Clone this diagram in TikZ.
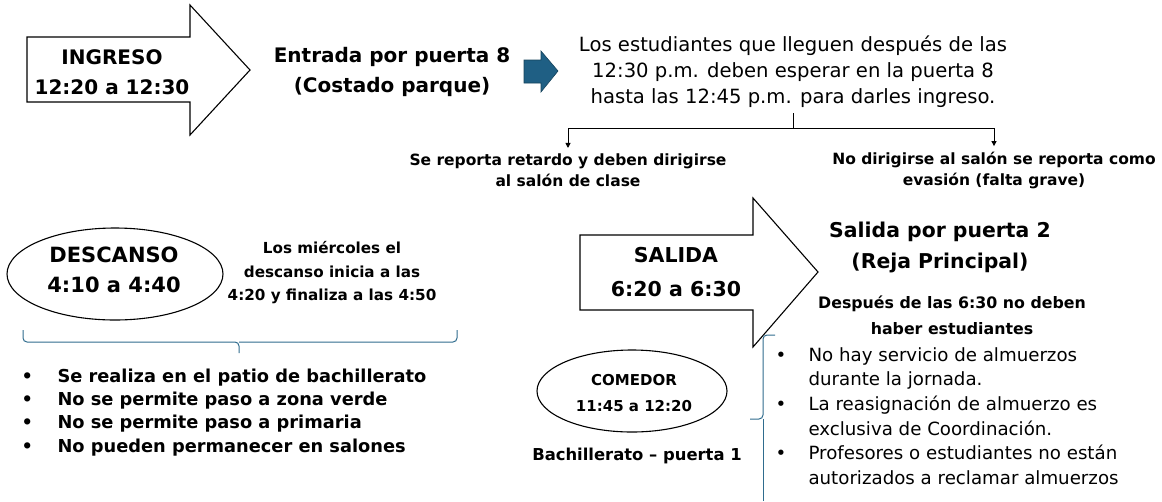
\documentclass[tikz,border=0pt]{standalone}
\usepackage{fontspec}
\setmainfont{DejaVu Sans}
\usetikzlibrary{shapes.geometric,arrows.meta}
\definecolor{teal}{HTML}{2F6C8E}
\definecolor{blu}{HTML}{1F5F84}
\tikzset{
  big/.style={font=\fontsize{20}{30}\selectfont\bfseries, align=center},
  med/.style={font=\fontsize{20}{30}\selectfont\bfseries, align=center},
  small/.style={font=\fontsize{15.5}{21}\selectfont\bfseries, align=center},
  plain/.style={font=\fontsize{19.6}{26}\selectfont, align=center},
  arrowshape/.style={draw=black, line width=1.1pt, fill=white},
  oval/.style={draw=black, line width=1.1pt, ellipse},
  brace/.style={draw=teal, line width=1pt, rounded corners=4pt},
  branch/.style={draw=black, line width=1pt},
}
\begin{document}
\begin{tikzpicture}[x=1pt,y=-1pt]
\useasboundingbox (0,0) rectangle (1162,501);
% INGRESO arrow
\draw[arrowshape] (27,37) -- (190,37) -- (190,5) -- (250,70) -- (190,135) -- (190,102) -- (27,102) -- cycle;
\node[big] (ing) at (112,72) {INGRESO\\12:20 a 12:30};
\node[med] (ent) at (392,72) {Entrada por puerta 8\\(Costado parque)};
% blue arrow
\draw[draw=blu!70!black, fill=blu, line width=0.6pt] (524,60) -- (541,60) -- (541,51) -- (558,71) -- (541,92) -- (541,83) -- (524,83) -- cycle;
\node[plain] (late) at (793,72) {Los estudiantes que lleguen después de las\\12:30 p.m. deben esperar en la puerta 8\\hasta las 12:45 p.m. para darles ingreso.};
\coordinate (bt) at (793,113);
\coordinate (bm) at (793,128);
\node[small] (ret) at (568,170) {Se reporta retardo y deben dirigirse\\al salón de clase};
\node[small] (eva) at (994,170) {No dirigirse al salón se reporta como\\evasión (falta grave)};
\draw[branch] (bt) -- (bm);
\draw[branch, -{Triangle[length=5pt,width=5pt]}] (bm) -| ([yshift=2pt]ret.north);
\draw[branch, -{Triangle[length=5pt,width=5pt]}] (bm) -| ([yshift=2pt]eva.north);
% DESCANSO
\node[oval, minimum width=216pt, minimum height=92pt] (des) at (115,274) {};
\node[font=\fontsize{21}{30}\selectfont\bfseries, align=center] (dest) at (114,270) {DESCANSO\\4:10 a 4:40};
\node[small, font=\fontsize{15.2}{23.5}\selectfont\bfseries] (mie) at (332,273) {Los miércoles el\\descanso inicia a las\\4:20 y finaliza a las 4:50};
\coordinate (b1) at (23,330);
\coordinate (b2) at (457,330);
\coordinate (bmid) at (239,353);
\draw[brace] (b1) -- (23,342) -- (239,342) -- (bmid);
\draw[brace] (b2) -- (457,342) -- (239,342);
\node[font=\fontsize{17.8}{23.4}\selectfont\bfseries, align=left, anchor=north west] (dl) at (18,365) {%
\makebox[36pt][l]{•}Se realiza en el patio de bachillerato\\
\makebox[36pt][l]{•}No se permite paso a zona verde\\
\makebox[36pt][l]{•}No se permite paso a primaria\\
\makebox[36pt][l]{•}No pueden permanecer en salones};
% SALIDA arrow
\draw[arrowshape] (580,235) -- (753,235) -- (753,198) -- (818,272) -- (753,347) -- (753,310) -- (580,310) -- cycle;
\node[font=\fontsize{20.5}{34}\selectfont\bfseries, align=center] (sal) at (676,272) {SALIDA\\6:20 a 6:30};
\node[font=\fontsize{20.4}{31}\selectfont\bfseries, align=center] (sp) at (940,247) {Salida por puerta 2\\(Reja Principal)};
\node[font=\fontsize{15.8}{26}\selectfont\bfseries, align=center] (desp) at (952,315) {Después de las 6:30 no deben\\haber estudiantes};
% COMEDOR
\node[oval, minimum width=190pt, minimum height=82pt] (com) at (632,391) {};
\node[font=\fontsize{15}{26}\selectfont\bfseries, align=center] (comt) at (634,393) {COMEDOR\\11:45 a 12:20};
\node[font=\fontsize{16.4}{26}\selectfont\bfseries, align=center] (bp) at (637,456) {Bachillerato – puerta 1};
\coordinate (rt) at (775,335);
\coordinate (rtip) at (750,419);
\coordinate (rb) at (763,501);
\draw[brace] (rt) -- (763,335) -- (763,419) -- (rtip);
\draw[brace] (763,419) -- (rb);
\node[font=\fontsize{18.2}{24.6}\selectfont, align=left, anchor=north west] (cl) at (772,344) {%
\makebox[33pt][l]{•}No hay servicio de almuerzos\\
\makebox[33pt][l]{}durante la jornada.\\
\makebox[33pt][l]{•}La reasignación de almuerzo es\\
\makebox[33pt][l]{}exclusiva de Coordinación.\\
\makebox[33pt][l]{•}Profesores o estudiantes no están\\
\makebox[33pt][l]{}autorizados a reclamar almuerzos};
\end{tikzpicture}
\end{document}
